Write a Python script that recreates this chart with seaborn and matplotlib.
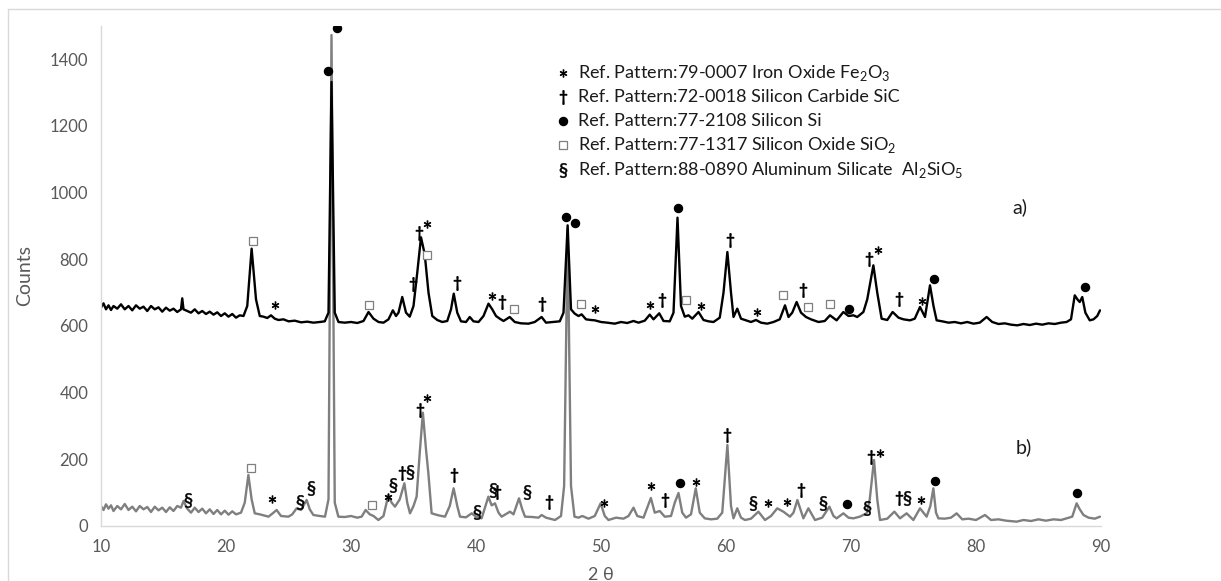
import matplotlib
matplotlib.use("Agg")
import matplotlib.pyplot as plt
from matplotlib.lines import Line2D
import seaborn as sns
import pandas as pd

# pattern a) (upper, black) - 2 theta and counts
two_theta_a = [10.0, 10.2, 10.4, 10.6, 10.8, 11.0, 11.3, 11.6, 11.9, 12.2, 12.5, 12.8, 13.1, 13.4, 13.7,
               14.0, 14.3, 14.6, 14.9, 15.2, 15.5, 15.8, 16.1, 16.4, 16.5, 16.6, 16.9, 17.2, 17.5, 17.8,
               18.1, 18.4, 18.7, 19.0, 19.3, 19.6, 19.9, 20.2, 20.5, 20.8, 21.1, 21.4, 21.7, 22.05, 22.4,
               22.7, 23.0, 23.3, 23.6, 23.9, 24.2, 24.6, 25.0, 25.5, 26.0, 26.5, 27.0, 27.5, 27.9, 28.2,
               28.44, 28.7, 29.0, 29.5, 30.0, 30.5, 31.0, 31.4, 31.8, 32.2, 32.6, 33.0, 33.35, 33.6, 33.8,
               34.1, 34.4, 34.7, 35.0, 35.3, 35.6, 35.9, 36.2, 36.5, 36.9, 37.3, 37.7, 38.0, 38.22, 38.5,
               38.8, 39.2, 39.5, 39.8, 40.2, 40.6, 41.0, 41.3, 41.6, 41.9, 42.2, 42.7, 43.1, 43.6, 44.2,
               44.7, 45.25, 45.6, 46.2, 46.7, 47.0, 47.33, 47.6, 47.9, 48.2, 48.45, 48.8, 49.2, 49.5, 50.0,
               50.5, 51.1, 51.6, 52.1, 52.6, 53.0, 53.5, 53.9, 54.2, 54.66, 55.0, 55.5, 55.8, 56.12, 56.4,
               56.7, 57.0, 57.3, 57.8, 58.2, 58.6, 59.0, 59.5, 59.8, 60.11, 60.4, 60.6, 60.9, 61.2, 61.6,
               62.0, 62.4, 62.8, 63.3, 63.8, 64.3, 64.72, 65.0, 65.3, 65.65, 66.0, 66.4, 66.8, 67.4, 67.9,
               68.32, 68.85, 69.39, 69.8, 70.2, 70.5, 70.99, 71.3, 71.79, 72.1, 72.45, 72.9, 73.33, 73.8, 74.2,
               74.72, 75.1, 75.52, 75.92, 76.32, 76.6, 76.85, 77.3, 77.8, 78.3, 78.8, 79.3, 79.8, 80.3, 80.85,
               81.3, 81.8, 82.3, 82.8, 83.3, 83.8, 84.3, 84.8, 85.3, 85.8, 86.3, 86.8, 87.25, 87.6, 87.9,
               88.15, 88.3, 88.5, 88.75, 89.1, 89.4, 89.7, 89.92]
counts_a = [655, 668, 650, 662, 648, 660, 652, 665, 650, 660, 647, 662, 652, 658, 645,
            660, 650, 656, 643, 655, 646, 652, 642, 650, 683, 650, 645, 640, 650, 638,
            645, 636, 643, 634, 641, 630, 638, 628, 636, 625, 632, 630, 660, 832, 680,
            630, 628, 624, 632, 622, 618, 620, 614, 616, 611, 613, 610, 612, 614, 640,
            1332, 640, 612, 610, 612, 609, 615, 642, 622, 612, 610, 620, 647, 630, 640,
            687, 640, 628, 660, 760, 866, 815, 700, 630, 618, 612, 615, 650, 697, 640,
            614, 612, 627, 614, 612, 630, 667, 650, 630, 622, 615, 627, 612, 608, 607,
            612, 627, 610, 612, 614, 640, 902, 650, 637, 630, 635, 620, 618, 617, 612,
            610, 607, 612, 609, 615, 610, 616, 634, 620, 638, 615, 614, 640, 925, 660,
            628, 632, 622, 642, 618, 614, 612, 625, 700, 822, 700, 627, 652, 622, 617,
            612, 618, 610, 607, 612, 620, 662, 627, 640, 672, 640, 627, 620, 612, 615,
            632, 617, 642, 630, 632, 627, 642, 680, 782, 700, 622, 618, 642, 625, 620,
            617, 622, 657, 627, 722, 660, 617, 614, 610, 612, 608, 612, 607, 610, 627,
            612, 606, 608, 604, 602, 606, 603, 607, 604, 608, 606, 610, 612, 620, 692,
            678, 672, 687, 640, 617, 620, 630, 647]

# pattern b) (lower, grey)
two_theta_b = [10.0, 10.2, 10.4, 10.6, 10.8, 11.0, 11.3, 11.6, 11.9, 12.2, 12.5, 12.8, 13.1, 13.4, 13.7,
               14.0, 14.3, 14.6, 14.9, 15.2, 15.5, 15.8, 16.1, 16.4, 16.6, 16.9, 17.2, 17.5, 17.8, 18.1,
               18.4, 18.7, 19.0, 19.3, 19.6, 19.9, 20.2, 20.5, 20.8, 21.2, 21.5, 21.79, 22.05, 22.3, 22.7,
               23.0, 23.4, 23.8, 24.05, 24.4, 24.99, 25.3, 25.65, 26.0, 26.45, 26.7, 26.99, 27.5, 27.92, 28.2,
               28.44, 28.7, 28.99, 29.5, 30.0, 30.5, 30.85, 31.17, 31.5, 31.8, 32.19, 32.6, 32.99, 33.25, 33.52,
               33.9, 34.27, 34.5, 34.72, 35.0, 35.25, 35.5, 35.75, 36.0, 36.19, 36.45, 37.0, 37.52, 37.9, 38.21,
               38.5, 38.72, 39.2, 39.65, 40.0, 40.45, 40.99, 41.25, 41.52, 41.8, 42.05, 42.72, 43.0, 43.44, 43.7,
               43.92, 44.5, 45.0, 45.25, 45.6, 46.32, 46.8, 47.05, 47.33, 47.6, 47.88, 48.2, 48.5, 49.0, 49.5,
               49.97, 50.3, 50.6, 51.2, 51.8, 52.2, 52.6, 52.9, 53.4, 53.99, 54.3, 54.7, 55.1, 55.6, 55.9,
               56.2, 56.5, 56.8, 57.2, 57.58, 57.9, 58.3, 58.8, 59.3, 59.7, 60.11, 60.4, 60.6, 60.9, 61.2,
               61.52, 62.0, 62.59, 63.12, 63.6, 64.1, 64.59, 65.12, 65.4, 65.71, 66.19, 66.59, 67.12, 67.7, 68.27,
               68.6, 68.85, 69.39, 69.8, 70.19, 70.7, 71.25, 71.5, 71.84, 72.1, 72.32, 72.9, 73.47, 73.92, 74.45,
               74.99, 75.52, 76.05, 76.35, 76.59, 76.8, 76.99, 77.5, 78.0, 78.45, 78.9, 79.4, 80.0, 80.72, 81.2,
               81.8, 82.4, 83.25, 83.8, 84.4, 85.0, 85.6, 86.2, 86.8, 87.25, 87.7, 88.05, 88.3, 88.6, 89.0,
               89.5, 89.92]
counts_b = [60, 48, 65, 52, 62, 45, 60, 50, 66, 48, 58, 44, 60, 50, 57,
            42, 58, 47, 55, 42, 56, 45, 60, 55, 75, 52, 40, 55, 42, 52,
            38, 50, 36, 48, 35, 46, 34, 44, 35, 40, 70, 153, 80, 38, 35,
            32, 28, 40, 48, 30, 28, 35, 53, 48, 78, 50, 33, 30, 28, 80,
            1473, 70, 28, 27, 30, 25, 28, 48, 35, 30, 18, 30, 93, 70, 58,
            80, 128, 70, 38, 60, 88, 220, 340, 230, 158, 38, 32, 28, 60, 113,
            60, 28, 26, 38, 28, 23, 88, 62, 68, 40, 28, 43, 35, 83, 50,
            28, 27, 25, 33, 25, 18, 30, 120, 890, 120, 28, 25, 30, 22, 30,
            68, 30, 18, 25, 22, 30, 55, 30, 25, 84, 40, 45, 28, 30, 70,
            99, 40, 25, 35, 113, 40, 23, 20, 22, 40, 243, 60, 23, 53, 25,
            18, 22, 43, 18, 30, 53, 43, 28, 40, 78, 23, 53, 18, 25, 58,
            30, 23, 38, 25, 23, 28, 38, 80, 198, 80, 18, 22, 43, 23, 38,
            18, 53, 28, 60, 113, 40, 23, 22, 25, 38, 20, 22, 18, 33, 18,
            20, 16, 13, 18, 15, 20, 16, 20, 18, 23, 28, 68, 50, 33, 25,
            22, 28]

# phase marks: symbol, 2 theta, counts
marks_a_sym = ["sq", "ast", "dot", "sq", "dag", "dag", "ast", "sq", "dag", "ast", "dag", "sq", "dag",
               "dot", "dot", "sq", "ast", "ast", "dag", "dot", "sq", "ast", "dag", "ast", "sq", "dag",
               "sq", "sq", "dot", "dag", "ast", "dag", "ast", "dot", "dot"]
marks_a_x = [22.19, 23.92, 28.19, 31.47, 34.97, 35.46, 36.05, 36.05, 38.5, 41.25, 42.1, 43.07, 45.25,
             47.17, 47.92, 48.4, 49.52, 53.9, 54.9, 56.13, 56.8, 58.0, 60.32, 62.45, 64.53, 66.13,
             66.59, 68.32, 69.84, 71.47, 72.19, 73.87, 75.71, 76.64, 88.72]
marks_a_y = [855, 662, 1364, 662, 725, 878, 905, 812, 728, 689, 672, 652, 667,
             927, 909, 665, 652, 662, 679, 955, 679, 660, 857, 643, 692, 708,
             657, 665, 652, 802, 827, 682, 675, 742, 717]

marks_b_sym = ["dot", "sec", "sq", "ast", "sec", "sec", "sq", "ast", "sec", "dag", "sec", "dag", "ast",
               "dag", "sec", "sec", "dag", "sec", "dag", "ast", "ast", "dag", "dot", "ast", "dag", "sec",
               "ast", "ast", "dag", "sec", "dot", "sec", "dag", "ast", "dag", "sec", "ast", "dot", "dot"]
marks_b_x = [28.9, 16.93, 21.96, 23.71, 25.92, 26.8, 31.65, 32.93, 33.33, 34.11, 34.72, 35.52, 36.05,
             38.27, 40.05, 41.39, 41.65, 44.05, 45.84, 50.24, 53.99, 55.12, 56.35, 57.58, 60.05, 62.19,
             63.39, 64.85, 65.97, 67.79, 69.65, 71.25, 71.57, 72.32, 73.84, 74.45, 75.57, 76.72, 88.05]
marks_b_y = [1495, 78, 173, 80, 73, 113, 63, 88, 123, 158, 163, 348, 383,
             153, 43, 108, 103, 103, 73, 68, 119, 79, 128, 133, 273, 70,
             68, 71, 108, 68, 65, 53, 208, 218, 83, 83, 78, 135, 98]

legend_sym = ["ast", "dag", "dot", "sq", "sec"]
legend_text = [r"Ref. Pattern:79-0007 Iron Oxide Fe$_\mathregular{2}$O$_\mathregular{3}$",
               "Ref. Pattern:72-0018 Silicon Carbide SiC",
               "Ref. Pattern:77-2108 Silicon Si",
               r"Ref. Pattern:77-1317 Silicon Oxide SiO$_\mathregular{2}$",
               r"Ref. Pattern:88-0890 Aluminum Silicate  Al$_\mathregular{2}$SiO$_\mathregular{5}$"]

sns.set_style("white")
plt.rcParams["font.family"] = ["Lato", "DejaVu Sans"]
plt.rcParams["mathtext.fontset"] = "custom"
plt.rcParams["mathtext.rm"] = "Lato"

TXT = "#595959"
LIGHT = "#d9d9d9"

# marker styles for each phase symbol
STYLE = {
    "ast": dict(marker=r"$\ast$", ms=5.5, mew=0.6, color="black"),
    "dag": dict(marker=r"$\dagger$", ms=10, mew=0.6, color="black"),
    "dot": dict(marker="o", ms=5.8, color="black"),
    "sq": dict(marker="s", ms=5.5, mfc="white", mec="#7f7f7f", mew=0.9, color="#7f7f7f"),
    "sec": dict(marker="$§$", ms=10.5, mew=0.35, color="black"),
}


def draw_marks(ax, syms, xs, ys):
    for s, x, y in zip(syms, xs, ys):
        ax.plot([x], [y], linestyle="none", zorder=5, **STYLE[s])


fig = plt.figure(figsize=(12.21, 5.81), dpi=100)
ax = fig.add_axes([101 / 1221, 1 - 526 / 581, 1000 / 1221, 500 / 581])

df_a = pd.DataFrame({"two_theta": two_theta_a, "counts": counts_a})
df_b = pd.DataFrame({"two_theta": two_theta_b, "counts": counts_b})
sns.lineplot(data=df_b, x="two_theta", y="counts", color="#7f7f7f", lw=1.7,
             estimator=None, sort=False, ax=ax)
sns.lineplot(data=df_a, x="two_theta", y="counts", color="black", lw=1.7,
             estimator=None, sort=False, ax=ax)

draw_marks(ax, marks_a_sym, marks_a_x, marks_a_y)
draw_marks(ax, marks_b_sym, marks_b_x, marks_b_y)

# legend block written as text lines
legend_y = [1358, 1286, 1214, 1142, 1067]
for s, t, y in zip(legend_sym, legend_text, legend_y):
    ax.plot([46.96], [y], linestyle="none", **STYLE[s])
    ax.text(48.2, y, t, ha="left", va="center", fontsize=13, color="#1a1a1a")

ax.text(83.5, 957, "a)", ha="center", va="center", fontsize=14, color="#1a1a1a")
ax.text(83.8, 237, "b)", ha="center", va="center", fontsize=14, color="#1a1a1a")

ax.set_xlim(10, 90)
ax.set_ylim(0, 1500)
ax.set_xticks(range(10, 91, 10))
ax.set_yticks(range(0, 1401, 200))
ax.tick_params(length=0, labelsize=12, labelcolor=TXT)
ax.tick_params(axis="x", pad=9)
ax.tick_params(axis="y", pad=9)
ax.set_xlabel("2 θ", fontsize=13, color=TXT, labelpad=9)
ax.set_ylabel("Counts", fontsize=14, color=TXT, labelpad=12)

for side in ["top", "right"]:
    ax.spines[side].set_visible(False)
for side in ["left", "bottom"]:
    ax.spines[side].set_color(LIGHT)
    ax.spines[side].set_linewidth(1.0)

# chart frame
fig.add_artist(Line2D([8 / 1221, 8 / 1221], [0, 1 - 9 / 581], transform=fig.transFigure,
                      color=LIGHT, lw=1))
fig.add_artist(Line2D([8 / 1221, 1], [1 - 9 / 581, 1 - 9 / 581], transform=fig.transFigure,
                      color=LIGHT, lw=1))

fig.savefig("out.png", dpi=100)
plt.close(fig)
